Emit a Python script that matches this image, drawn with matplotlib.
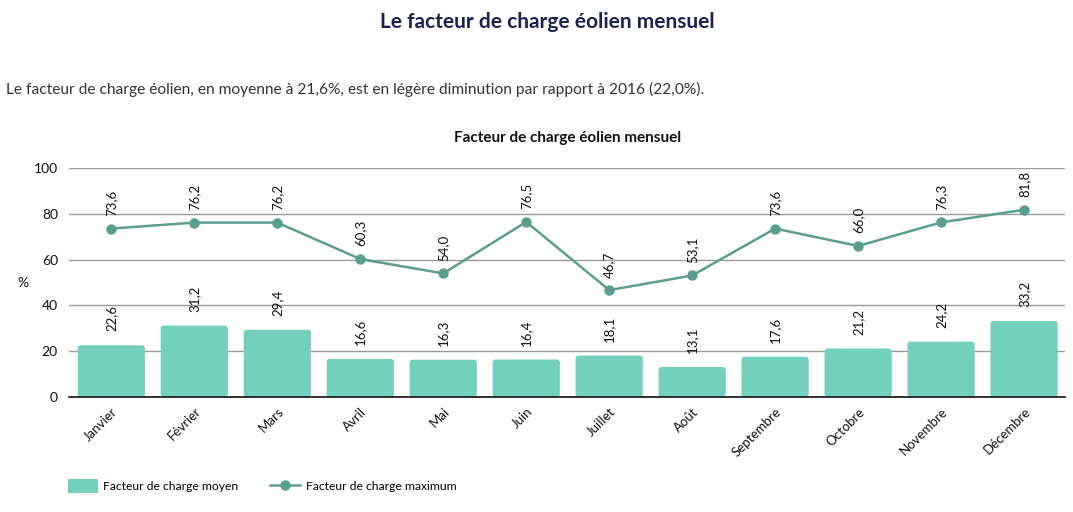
import matplotlib
matplotlib.use('Agg')
import matplotlib.pyplot as plt
from matplotlib.patches import FancyBboxPatch
from matplotlib.lines import Line2D
from matplotlib.patches import Patch

plt.rcParams['font.family'] = ['Lato', 'DejaVu Sans']

# ========== Data ==========
months = ['Janvier', 'Février', 'Mars', 'Avril', 'Mai', 'Juin', 'Juillet',
          'Août', 'Septembre', 'Octobre', 'Novembre', 'Décembre']
moyen = [22.6, 31.2, 29.4, 16.6, 16.3, 16.4, 18.1, 13.1, 17.6, 21.2, 24.2, 33.2]
maximum = [73.6, 76.2, 76.2, 60.3, 54.0, 76.5, 46.7, 53.1, 73.6, 66.0, 76.3, 81.8]
y_ticks = [0, 20, 40, 60, 80, 100]

BAR_COLOR = '#72d0bc'
LINE_COLOR = '#5a9f8e'
NAVY = '#1c2250'


def fr(v):
    return f"{v:.1f}".replace('.', ',')


fig = plt.figure(figsize=(10.73, 5.12), dpi=100)
ax = fig.add_axes([0.0643, 0.2246, 0.928, 0.447])

x = list(range(len(months)))
bars = ax.bar(x, moyen, width=0.81, color=BAR_COLOR, zorder=2)

# rounded corners on the bars
aspect = (100 / 229) / (12 / 996)
for b in bars:
    b.set_visible(False)
    ax.add_patch(FancyBboxPatch(
        (b.get_x(), b.get_y()), b.get_width(), b.get_height(),
        boxstyle="round,pad=0,rounding_size=0.035", mutation_aspect=aspect,
        facecolor=BAR_COLOR, edgecolor='none', zorder=2))

ax.plot(x, maximum, color=LINE_COLOR, lw=1.8, marker='o', ms=6.5, zorder=3)

for xi, v in zip(x, moyen):
    ax.annotate(fr(v), (xi, v), xytext=(0, 10), textcoords='offset points',
                rotation=90, ha='center', va='bottom', fontsize=9.5, color='#111111')
for xi, v in zip(x, maximum):
    ax.annotate(fr(v), (xi, v), xytext=(0, 9), textcoords='offset points',
                rotation=90, ha='center', va='bottom', fontsize=9.5, color='#111111')

ax.set_xlim(-0.51, 11.49)
ax.set_ylim(0, 100)
ax.set_yticks(y_ticks)
ax.set_yticklabels([str(t) for t in y_ticks], fontsize=10, color='#111111')
ax.set_xticks(x)
ax.set_xticklabels(months, rotation=45, ha='right', rotation_mode='anchor',
                   fontsize=9.5, color='#111111')
ax.tick_params(axis='both', length=0, pad=8)
ax.tick_params(axis='x', pad=6)
ax.yaxis.grid(True, color='#9a9a9a', lw=1)
ax.set_axisbelow(True)
for s in ['top', 'right', 'left']:
    ax.spines[s].set_visible(False)
ax.spines['bottom'].set_color('#111111')
ax.spines['bottom'].set_linewidth(1.2)
ax.spines['bottom'].set_zorder(4)

fig.text(0.021, 0.447, '%', fontsize=10, ha='center', va='center', color='#111111')

# Titles
fig.text(0.51, 0.957, 'Le facteur de charge éolien mensuel', ha='center', va='center',
         fontsize=15, fontweight='bold', color=NAVY)
fig.text(0.006, 0.826,
         'Le facteur de charge éolien, en moyenne à 21,6%, est en légère diminution par rapport à 2016 (22,0%).',
         ha='left', va='center', fontsize=11.15, color='#333333')
fig.text(0.529, 0.73, 'Facteur de charge éolien mensuel', ha='center', va='center',
         fontsize=11, fontweight='bold', color='#111111')

# Legend
handles = [Patch(facecolor=BAR_COLOR, edgecolor='none'),
           Line2D([0], [0], color=LINE_COLOR, lw=1.8, marker='o', ms=6.5)]
fig.legend(handles, ['Facteur de charge moyen', 'Facteur de charge maximum'],
           loc='center left', bbox_to_anchor=(0.053, 0.05), ncol=2, frameon=False,
           fontsize=8.7, handlelength=2.5, handleheight=1.4, columnspacing=2.6,
           handletextpad=0.45)

fig.savefig('out.png', dpi=100)
